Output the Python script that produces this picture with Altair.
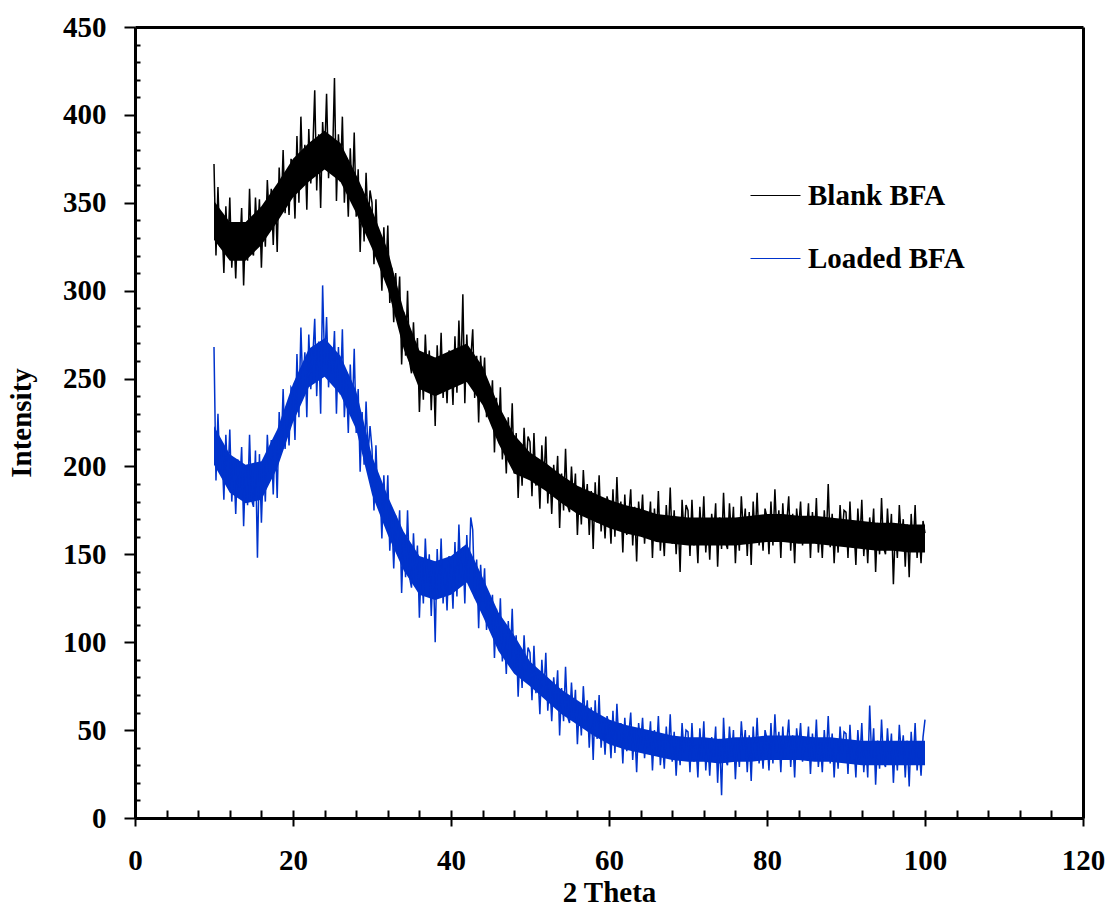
import altair as alt
import numpy as np
import pandas as pd

# 2-theta grid (10 to 100, step 0.25)
two_theta = [round(10 + 0.25 * i, 2) for i in range(361)]

# Blank BFA intensities (rows of 5 degrees)
blank_bfa = (
    [372,320,359,325,338,310,348,323,353,313,335,307,339,323,347,303,338,317,358,323]
  + [320,353,329,352,313,346,325,363,340,358,326,358,322,370,345,380,344,365,343,375]
  + [371,341,388,350,399,362,383,346,392,361,379,414,357,389,347,396,376,412,364,388]
  + [374,421,351,389,362,399,350,372,342,381,352,390,342,369,322,358,328,367,338,357]
  + [350,315,352,318,330,300,336,309,337,293,313,282,310,289,308,258,288,263,300,260]
  + [253,282,255,273,231,262,238,275,250,266,232,261,223,269,243,276,239,259,236,266]
  + [261,235,274,242,283,251,298,236,275,248,261,278,239,263,225,263,243,262,228,245]
  + [231,249,208,239,215,245,204,221,196,228,204,236,196,219,182,212,189,222,200,217]
  + [214,183,219,189,202,176,212,190,217,179,199,173,201,185,206,165,196,175,210,178]
  + [174,200,179,196,161,187,167,198,177,190,161,186,153,191,168,195,163,179,159,183]
  + [178,156,187,160,194,166,180,151,184,161,172,187,155,177,146,180,165,184,156,173]
  + [163,180,148,176,158,186,152,169,149,178,159,188,156,175,150,171,140,181,162,178]
  + [175,149,181,155,167,145,177,158,183,151,169,147,173,160,179,143,171,153,185,157]
  + [153,179,159,177,145,170,152,183,163,176,149,174,144,180,159,185,155,171,152,176]
  + [171,150,180,155,187,161,175,148,179,157,168,183,152,173,145,176,164,180,155,171]
  + [162,179,148,174,157,182,151,167,148,175,157,190,154,173,145,168,151,178,160,175]
  + [174,148,180,154,166,144,176,157,181,149,167,145,171,158,176,140,168,150,182,154]
  + [150,176,156,173,133,166,148,178,158,170,143,167,137,173,152,178,148,164,145,169]
  + [162]
)

# Loaded BFA intensities (rows of 5 degrees)
loaded_bfa = (
    [268,192,230,197,210,181,218,192,221,180,202,173,204,188,211,166,200,178,218,181]
  + [177,209,148,207,168,201,180,218,196,215,184,217,182,231,208,244,210,233,212,245]
  + [243,215,264,228,279,243,265,228,275,244,262,284,240,271,230,303,258,285,245,268]
  + [253,277,230,268,241,278,228,250,219,258,229,267,219,244,197,231,201,237,207,223]
  + [210,175,212,178,190,159,195,168,195,152,172,142,172,154,175,128,161,137,175,137]
  + [131,162,136,155,114,146,122,159,134,150,115,145,100,153,126,159,122,142,118,149]
  + [144,119,157,126,167,136,154,122,161,134,171,164,125,147,108,144,123,142,107,124]
  + [110,127,91,119,98,125,89,105,82,112,90,119,83,104,69,96,74,104,83,97]
  + [94,67,98,71,82,59,90,70,94,61,78,55,80,66,84,47,74,55,86,58]
  + [54,77,57,73,42,65,47,75,55,67,40,63,33,67,45,70,40,55,36,58]
  + [53,34,61,37,65,43,54,31,57,38,47,60,33,51,26,54,42,57,34,48]
  + [40,55,27,50,36,58,30,44,28,52,35,59,32,49,24,46,30,54,37,50]
  + [49,26,54,32,42,23,51,34,55,27,44,24,46,35,52,20,45,13,57,33]
  + [30,52,35,50,22,45,29,55,39,50,26,47,21,52,34,57,31,45,28,50]
  + [45,27,54,31,59,37,49,26,52,33,43,56,29,47,23,51,39,54,32,46]
  + [37,52,25,48,34,56,29,43,26,50,34,58,31,48,23,45,28,52,36,49]
  + [48,25,53,31,42,23,50,33,54,26,43,23,64,34,51,19,44,28,56,32]
  + [29,51,33,48,20,43,27,53,36,47,23,44,18,49,31,54,27,41,24,46]
  + [56]
)

# Dense (solid-looking) core of each noisy band, read every 2 degrees
core_theta = list(range(10, 101, 2))
blank_core_low = [329,317,317,326,339,353,362,369,362,344,324,301,267,244,240,244,248,235,213,196,
                  192,186,179,173,169,165,162,160,157,156,155,155,155,155,156,157,157,156,156,155,
                  154,153,152,152,151,151]
blank_core_high = [351,339,339,348,361,375,384,391,384,366,346,323,289,266,262,266,270,257,235,218,
                   208,202,195,189,185,181,178,176,173,172,171,171,171,171,172,173,173,172,172,171,
                   170,169,168,168,167,167]
loaded_core_low = [201,185,179,181,199,225,245,251,241,221,184,161,141,127,124,127,134,115,95,82,
                   75,67,59,53,47,42,39,37,35,33,32,32,31,32,32,33,33,33,32,32,
                   31,30,30,30,30,30]
loaded_core_high = [223,207,201,203,221,247,267,273,263,243,206,183,163,149,146,149,156,137,117,104,
                    89,81,73,67,61,56,53,51,49,47,46,46,45,46,46,47,47,47,46,46,
                    45,44,44,44,44,44]

series_names = ["Blank BFA", "Loaded BFA"]
series_colors = ["#000000", "#0033CC"]

x_major = [0, 20, 40, 60, 80, 100, 120]
x_minor = list(range(0, 121, 4))
y_major = list(range(0, 451, 50))
y_minor = [v for v in range(0, 451, 10) if v % 50 != 0]

assert len(blank_bfa) == len(two_theta) == len(loaded_bfa)
assert len(core_theta) == len(blank_core_low) == len(blank_core_high)
assert len(core_theta) == len(loaded_core_low) == len(loaded_core_high)

df = pd.DataFrame({
    "theta": two_theta * 2,
    "intensity": blank_bfa + loaded_bfa,
    "series": [series_names[0]] * len(two_theta) + [series_names[1]] * len(two_theta),
    "order": list(range(len(two_theta))) * 2,
})

core_df = pd.DataFrame({
    "theta": core_theta * 2,
    "low": blank_core_low + loaded_core_low,
    "high": blank_core_high + loaded_core_high,
    "series": [series_names[0]] * len(core_theta) + [series_names[1]] * len(core_theta),
})

FONT = "Liberation Serif"
FS = 29

xscale = alt.Scale(domain=[0, 120], nice=False, zero=False)
yscale = alt.Scale(domain=[0, 450], nice=False, zero=False)


def core_layer(name, color):
    return alt.Chart(core_df).transform_filter(
        alt.datum.series == name
    ).mark_area(color=color, opacity=1, clip=True).encode(
        x=alt.X("theta:Q", scale=xscale,
                axis=alt.Axis(orient="bottom", values=x_major, tickSize=8, tickWidth=2,
                              tickColor="black", domainColor="black", domainWidth=3,
                              labelFont=FONT, labelFontSize=FS, labelFontWeight="bold",
                              labelColor="black", labelPadding=20, labelFlush=False,
                              grid=False,
                              title="2 Theta", titleFont=FONT, titleFontSize=FS,
                              titleFontWeight="bold", titleColor="black", titlePadding=3)
                if name == series_names[0] else None),
        y=alt.Y("low:Q", scale=yscale,
                axis=alt.Axis(orient="left", values=y_major, tickSize=11, tickWidth=2,
                              tickColor="black", domainColor="black", domainWidth=3,
                              labelFont=FONT, labelFontSize=FS, labelFontWeight="bold",
                              labelColor="black", labelPadding=18, labelFlush=False,
                              grid=False,
                              title="Intensity", titleFont=FONT, titleFontSize=FS,
                              titleFontWeight="bold", titleColor="black", titlePadding=26)
                if name == series_names[0] else None),
        y2="high:Q",
    )


lines = alt.Chart(df).mark_line(strokeWidth=1.5, clip=True).encode(
    x=alt.X("theta:Q", scale=xscale, axis=None),
    y=alt.Y("intensity:Q", scale=yscale, axis=None),
    color=alt.Color("series:N",
                    scale=alt.Scale(domain=series_names, range=series_colors),
                    legend=alt.Legend(orient="none", legendX=615, legendY=143,
                                      title=None, symbolType="stroke", symbolSize=2500,
                                      symbolStrokeWidth=1, labelFont=FONT,
                                      labelFontSize=FS, labelFontWeight="bold",
                                      labelColor="black", rowPadding=22, labelOffset=7)),
    order="order:Q",
)

inner_ticks = alt.Chart(df).mark_point(opacity=0).encode(
    x=alt.X("theta:Q", scale=xscale,
            axis=alt.Axis(orient="bottom", values=x_minor, offset=-8, tickSize=8,
                          tickWidth=2, tickColor="black", domain=False, labels=False,
                          grid=False, title=None)),
    y=alt.Y("intensity:Q", scale=yscale,
            axis=alt.Axis(orient="left", values=y_minor, offset=-5, tickSize=5,
                          tickWidth=2, tickColor="black", domain=False, labels=False,
                          grid=False, title=None)),
)

frame = alt.Chart(df).mark_point(opacity=0).encode(
    x=alt.X("theta:Q", scale=xscale,
            axis=alt.Axis(orient="top", ticks=False, labels=False, domain=True,
                          domainColor="black", domainWidth=3, grid=False, title=None)),
    y=alt.Y("intensity:Q", scale=yscale,
            axis=alt.Axis(orient="right", ticks=False, labels=False, domain=True,
                          domainColor="black", domainWidth=3, grid=False, title=None)),
)

chart = alt.layer(
    core_layer(series_names[0], series_colors[0]),
    core_layer(series_names[1], series_colors[1]),
    lines,
    inner_ticks, frame,
).resolve_axis(
    x="independent", y="independent"
).properties(
    width=948, height=791,
    autosize=alt.AutoSizeParams(type="none"),
    padding={"left": 135, "top": 27, "right": 26, "bottom": 90},
).configure_view(
    stroke=None
).configure(background="white")

chart.save("out.html", embed_options={"renderer": "svg", "actions": False})
